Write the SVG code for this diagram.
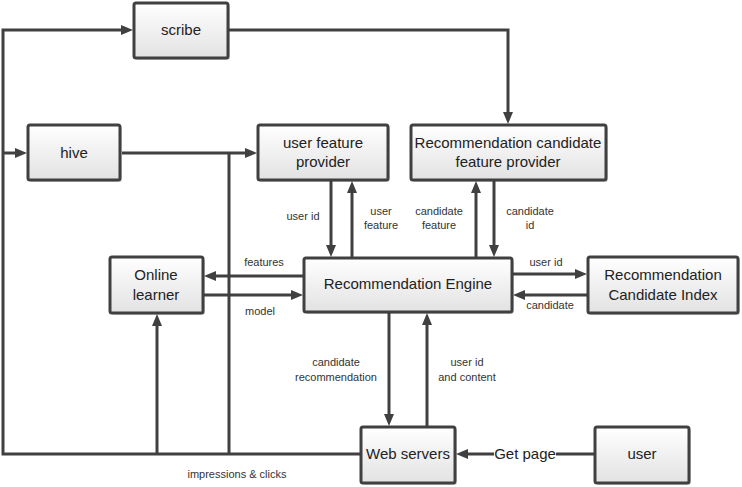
<svg xmlns="http://www.w3.org/2000/svg" width="742" height="487" viewBox="0 0 742 487">
<defs>
<linearGradient id="g" x1="0" y1="0" x2="0" y2="1">
<stop offset="0" stop-color="#ffffff"/>
<stop offset="1" stop-color="#e2e2e2"/>
</linearGradient>
<marker id="a" viewBox="0 0 12 10" markerWidth="12" markerHeight="10" markerUnits="userSpaceOnUse" refX="3" refY="5" orient="auto">
<path d="M0,0 L12,5 L0,10 z" fill="#404040"/>
</marker>
<style>
.box{fill:url(#g);stroke:#404040;stroke-width:3}
.sh{fill:#000;opacity:0.15}
.t{font-family:"Liberation Sans",Arial,sans-serif;font-size:15px;fill:#222;text-anchor:middle}
.s{font-family:"Liberation Sans",Arial,sans-serif;font-size:11px;fill:#333;text-anchor:middle}
.c{fill:none;stroke:#404040;stroke-width:3}
.ar{marker-end:url(#a)}
</style>
</defs>
<rect width="742" height="487" fill="#fff"/>
<g id="connectors">
<path class="c ar" d="M360,454 H3 V30 H124"/>
<path class="c ar" d="M3,153 H18"/>
<path class="c ar" d="M229,30 H508 V115"/>
<path class="c ar" d="M122,153 H248"/>
<path class="c" d="M229,454 V153"/>
<path class="c ar" d="M157,454 V323"/>
<path class="c ar" d="M331,181 V248"/>
<path class="c ar" d="M352,257 V190"/>
<path class="c ar" d="M476,257 V190"/>
<path class="c ar" d="M494,181 V248"/>
<path class="c ar" d="M303,276 H213"/>
<path class="c ar" d="M204,295 H294"/>
<path class="c ar" d="M513,274 H578"/>
<path class="c ar" d="M587,295 H522"/>
<path class="c ar" d="M389,313 V417"/>
<path class="c ar" d="M427,426 V322"/>
<path class="c ar" d="M594,454 H465"/>
<rect x="494" y="444" width="62" height="20" fill="#fff"/>
<text class="t" x="525" y="459">Get page</text>
<text class="s" x="303" y="220">user id</text>
<text class="s" x="381" y="215">user</text>
<text class="s" x="381" y="229">feature</text>
<text class="s" x="439" y="215">candidate</text>
<text class="s" x="439" y="229">feature</text>
<text class="s" x="530" y="215">candidate</text>
<text class="s" x="530" y="229">id</text>
<text class="s" x="264" y="266">features</text>
<text class="s" x="260" y="315">model</text>
<text class="s" x="546" y="266">user id</text>
<text class="s" x="550" y="309">candidate</text>
<text class="s" x="336" y="366">candidate</text>
<text class="s" x="336" y="381">recommendation</text>
<text class="s" x="467" y="366">user id</text>
<text class="s" x="467" y="381">and content</text>
<text class="s" x="237" y="478">impressions &amp; clicks</text>
</g>
<g id="scribe">
<rect class="sh" x="136" y="5" width="94" height="55" rx="2"/>
<rect class="box" x="134" y="3" width="94" height="55" rx="2"/>
<text class="t" x="181" y="35">scribe</text>
</g>
<g id="hive">
<rect class="sh" x="30" y="127" width="92" height="55" rx="2"/>
<rect class="box" x="28" y="125" width="92" height="55" rx="2"/>
<text class="t" x="74" y="158">hive</text>
</g>
<g id="user-feature-provider">
<rect class="sh" x="260" y="127" width="130" height="55" rx="2"/>
<rect class="box" x="258" y="125" width="130" height="55" rx="2"/>
<text class="t" x="323" y="148">user feature</text>
<text class="t" x="323" y="167">provider</text>
</g>
<g id="candidate-feature-provider">
<rect class="sh" x="413" y="127" width="195" height="55" rx="2"/>
<rect class="box" x="411" y="125" width="195" height="55" rx="2"/>
<text class="t" x="508" y="148">Recommendation candidate</text>
<text class="t" x="508" y="167">feature provider</text>
</g>
<g id="recommendation-engine">
<rect class="sh" x="306" y="260" width="208" height="54" rx="2"/>
<rect class="box" x="304" y="258" width="208" height="54" rx="2"/>
<text class="t" x="408" y="289">Recommendation Engine</text>
</g>
<g id="online-learner">
<rect class="sh" x="112" y="259" width="93" height="56" rx="2"/>
<rect class="box" x="110" y="257" width="93" height="56" rx="2"/>
<text class="t" x="156" y="280">Online</text>
<text class="t" x="156" y="300">learner</text>
</g>
<g id="candidate-index">
<rect class="sh" x="590" y="259" width="150" height="56" rx="2"/>
<rect class="box" x="588" y="257" width="150" height="56" rx="2"/>
<text class="t" x="663" y="280">Recommendation</text>
<text class="t" x="663" y="300">Candidate Index</text>
</g>
<g id="web-servers">
<rect class="sh" x="363" y="429" width="94" height="56" rx="2"/>
<rect class="box" x="361" y="427" width="94" height="56" rx="2"/>
<text class="t" x="408" y="459">Web servers</text>
</g>
<g id="user">
<rect class="sh" x="597" y="429" width="94" height="56" rx="2"/>
<rect class="box" x="595" y="427" width="94" height="56" rx="2"/>
<text class="t" x="642" y="459">user</text>
</g>
</svg>
